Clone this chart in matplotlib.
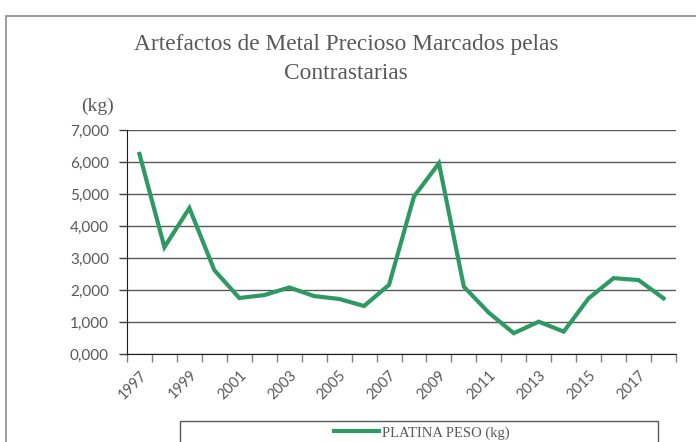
import matplotlib.pyplot as plt
from matplotlib.patches import Rectangle
from matplotlib.lines import Line2D

# dados
anos = [str(a) for a in range(1997, 2019)]
peso = [6250, 3340, 4560, 2620, 1750, 1840, 2080, 1810, 1720, 1500, 2160,
        4920, 5960, 2100, 1290, 650, 1010, 700, 1740, 2370, 2310, 1740]
yticks = [0, 1000, 2000, 3000, 4000, 5000, 6000, 7000]
ytick_labels = ['0,000', '1,000', '2,000', '3,000', '4,000', '5,000', '6,000', '7,000']

W, H = 696, 442
fig = plt.figure(figsize=(W / 100, H / 100), dpi=100)

# moldura exterior (cortada à direita e em baixo)
fig.add_artist(Rectangle((6 / W, -0.1), 1.2, (442 - 16) / H + 0.1, transform=fig.transFigure,
                         fill=False, edgecolor='#8c8c8c', linewidth=1.2))

ax = fig.add_axes([127 / W, (H - 354) / H, 549 / W, 224 / H])
x = list(range(len(anos)))
ax.plot(x, peso, color='#2E9A63', linewidth=3.0, solid_joinstyle='miter', zorder=3)

ax.set_xlim(-0.5, len(anos) - 0.5)
ax.set_ylim(0, 7000)
ax.set_yticks(yticks)
ax.set_yticklabels(ytick_labels, fontsize=11, color='#595959', family='Lato')
ax.grid(axis='y', color='#595959', linewidth=1.0)
ax.set_axisbelow(True)

ax.set_xticks(x[::2])
ax.set_xticklabels(anos[::2], rotation=45, ha='right', rotation_mode='anchor',
                   fontsize=10.5, color='#595959', family='Lato')
ax.set_xticks([i - 0.5 for i in range(len(anos) + 1)], minor=True)
ax.tick_params(axis='x', which='major', length=0, pad=10)
ax.tick_params(axis='x', which='minor', length=6, color='#808080', width=1)
ax.tick_params(axis='y', length=6, color='#404040', width=1, pad=7)

for s in ['top', 'right']:
    ax.spines[s].set_visible(False)
ax.spines['left'].set_color('#1a1a1a')
ax.spines['bottom'].set_color('#1a1a1a')

fig.text(346 / W, 1 - 59 / H, 'Artefactos de Metal Precioso Marcados pelas\nContrastarias',
         ha='center', va='center', fontsize=16.8, color='#595959', family='Liberation Serif',
         linespacing=1.45)
fig.text(97 / W, 1 - 106 / H, '(kg)', ha='center', va='center', fontsize=14,
         color='#595959', family='Liberation Serif')

# caixa da legenda
fig.add_artist(Rectangle((180 / W, -0.1), 478 / W, (H - 421) / H + 0.1, transform=fig.transFigure,
                         fill=False, edgecolor='#595959', linewidth=1.0))
handle = Line2D([], [], color='#2E9A63', linewidth=3.0)
fig.legend([handle], ['PLATINA PESO (kg)'], loc='center', bbox_to_anchor=(422 / W, 1 - 433 / H),
           frameon=False, handlelength=3.1, handletextpad=0.2,
           prop={'family': 'Liberation Serif', 'size': 10.5}, labelcolor='#595959')

fig.savefig('out.png', dpi=100)
